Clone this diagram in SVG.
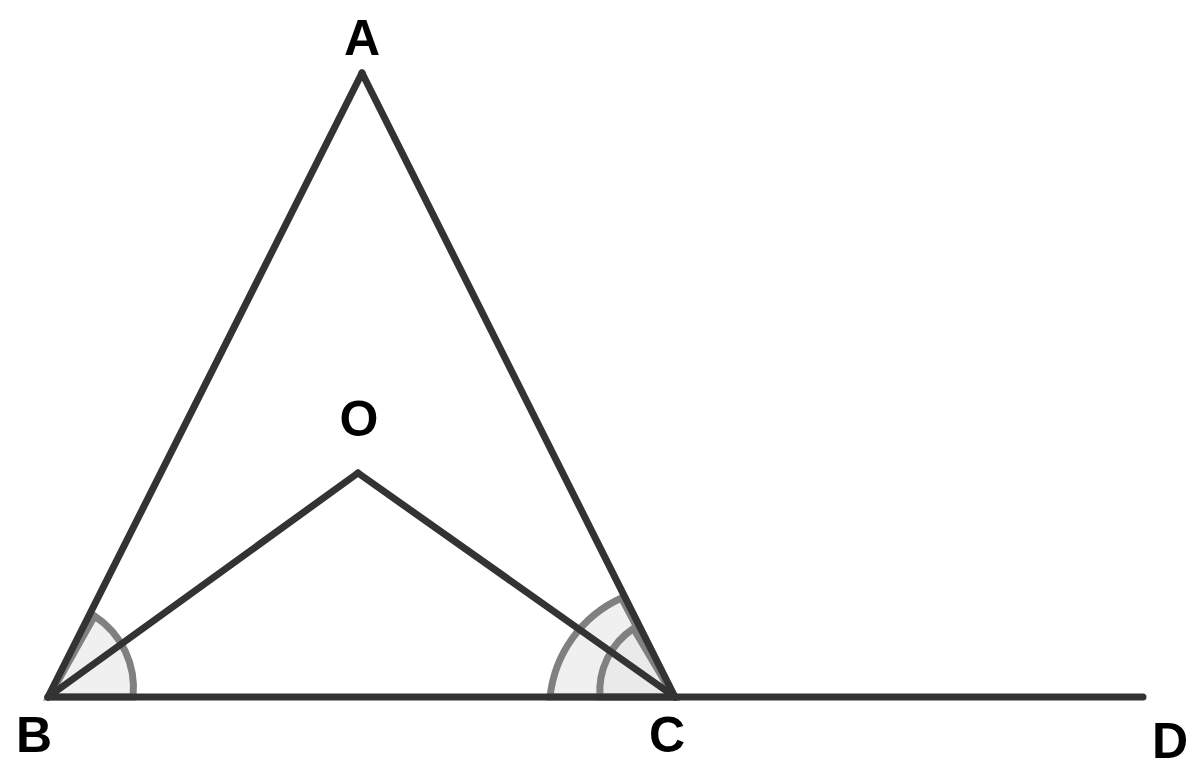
<svg xmlns="http://www.w3.org/2000/svg" width="1197" height="771" viewBox="0 0 1197 771">
<style>
.lbl{font-family:"Liberation Sans",Arial,sans-serif;font-weight:bold;font-size:50px;fill:#000;text-anchor:middle}
.seg{stroke:#333;stroke-width:7;stroke-linecap:round;fill:none}
.ang{stroke:#808080;stroke-width:7;fill:#e6e6e6;fill-opacity:0.6}
</style>
<rect width="1197" height="771" fill="#fff"/>
<g id="angles">
<path class="ang" d="M49,697 L133,697 A86,86 0 0 0 94.5,616 Z"/>
<path class="ang" d="M674,697 L550,697 A123,123 0 0 1 621.5,598 Z"/>
<path class="ang" d="M674,697 L600,697 A75,75 0 0 1 633.5,628.5 Z"/>
</g>
<g id="connectors">
<line class="seg" x1="362" y1="73" x2="48" y2="697"/>
<line class="seg" x1="362" y1="73" x2="675" y2="697"/>
<line class="seg" x1="48" y1="697" x2="1143" y2="697"/>
<line class="seg" x1="48" y1="697" x2="358" y2="473"/>
<line class="seg" x1="358" y1="473" x2="675" y2="697"/>
</g>
<g id="A"><text class="lbl" x="362" y="55">A</text></g>
<g id="O"><text class="lbl" x="359" y="436">O</text></g>
<g id="B"><text class="lbl" x="34" y="752">B</text></g>
<g id="C"><text class="lbl" x="667" y="752">C</text></g>
<g id="D"><text class="lbl" x="1170" y="758">D</text></g>
</svg>
